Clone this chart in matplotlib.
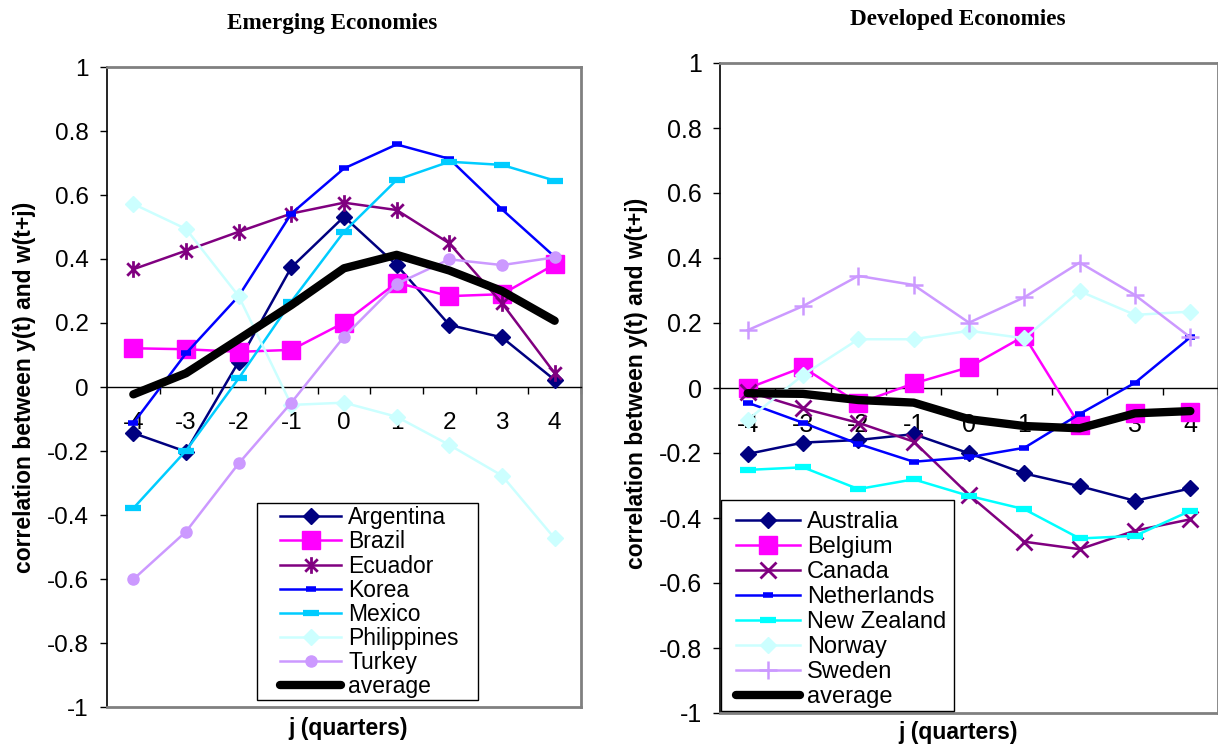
import numpy as np
import matplotlib
matplotlib.use('Agg')
from matplotlib import pyplot as plt
from matplotlib.path import Path
from matplotlib.patches import Rectangle
from matplotlib.ticker import FuncFormatter

plt.rcParams['font.family'] = ['Liberation Sans', 'DejaVu Sans']
plt.rcParams['axes.unicode_minus'] = False

# lead/lag in quarters
j = np.arange(-4, 5)

# emerging economies
argentina = [-0.144, -0.202, 0.079, 0.374, 0.532, 0.381, 0.194, 0.155, 0.022]
brazil = [0.121, 0.118, 0.110, 0.116, 0.201, 0.326, 0.284, 0.290, 0.383]
ecuador = [0.368, 0.426, 0.485, 0.542, 0.576, 0.553, 0.449, 0.262, 0.043]
korea = [-0.113, 0.105, 0.284, 0.542, 0.683, 0.758, 0.713, 0.555, 0.407]
mexico = [-0.379, -0.199, 0.027, 0.267, 0.485, 0.647, 0.704, 0.694, 0.645]
philippines = [0.572, 0.494, 0.284, -0.056, -0.049, -0.093, -0.181, -0.277, -0.473]
turkey = [-0.601, -0.452, -0.239, -0.049, 0.157, 0.322, 0.399, 0.381, 0.405]
avg_emerging = [-0.023, 0.043, 0.149, 0.256, 0.371, 0.413, 0.364, 0.300, 0.207]

# developed economies
australia = [-0.203, -0.168, -0.160, -0.142, -0.201, -0.263, -0.302, -0.347, -0.309]
belgium = [-0.001, 0.064, -0.047, 0.014, 0.064, 0.160, -0.114, -0.078, -0.073]
canada = [-0.011, -0.063, -0.107, -0.165, -0.329, -0.473, -0.496, -0.439, -0.404]
netherlands = [-0.045, -0.107, -0.172, -0.227, -0.213, -0.184, -0.080, 0.016, 0.156]
new_zealand = [-0.252, -0.244, -0.311, -0.281, -0.332, -0.373, -0.463, -0.455, -0.378]
norway = [-0.098, 0.040, 0.150, 0.150, 0.176, 0.153, 0.298, 0.225, 0.235]
sweden = [0.178, 0.252, 0.345, 0.317, 0.201, 0.279, 0.386, 0.286, 0.156]
avg_developed = [-0.016, -0.018, -0.037, -0.045, -0.096, -0.117, -0.124, -0.078, -0.071]

# asterisk: vertical bar plus an x
asterisk = Path([(0, -1), (0, 1), (-0.75, -0.75), (0.75, 0.75), (-0.75, 0.75), (0.75, -0.75)],
                [Path.MOVETO, Path.LINETO, Path.MOVETO, Path.LINETO, Path.MOVETO, Path.LINETO])

NAVY, MAGENTA, PURPLE, BLUE = '#000080', '#FF00FF', '#800080', '#0000FF'
SKY, CYAN, PALE, LILAC = '#00CCFF', '#00FFFF', '#CCFFFF', '#CC99FF'

emerging = [
    ('Argentina', argentina, NAVY, dict(marker='D', ms=8.5)),
    ('Brazil', brazil, MAGENTA, dict(marker='s', ms=12.5)),
    ('Ecuador', ecuador, PURPLE, dict(marker=asterisk, ms=12, mew=2)),
    ('Korea', korea, BLUE, dict(marker='_', ms=7, mew=4)),
    ('Mexico', mexico, SKY, dict(marker='_', ms=12, mew=4.5)),
    ('Philippines', philippines, PALE, dict(marker='D', ms=8.5)),
    ('Turkey', turkey, LILAC, dict(marker='o', ms=8)),
]
developed = [
    ('Australia', australia, NAVY, dict(marker='D', ms=8.5)),
    ('Belgium', belgium, MAGENTA, dict(marker='s', ms=12.5)),
    ('Canada', canada, PURPLE, dict(marker='x', ms=12, mew=2)),
    ('Netherlands', netherlands, BLUE, dict(marker='_', ms=7, mew=4)),
    ('New Zealand', new_zealand, CYAN, dict(marker='_', ms=12, mew=4.5)),
    ('Norway', norway, PALE, dict(marker='D', ms=8.5)),
    ('Sweden', sweden, LILAC, dict(marker='+', ms=13, mew=1.8)),
]


def draw_panel(ax, series, average, box, anchor, legend_size, spacing, tick_size):
    for name, vals, color, mk in series:
        ax.plot(j, vals, color=color, lw=1.8, mfc=color, mec=color, label=name,
                zorder=3, **mk)
    ax.plot(j, average, color='black', lw=6, solid_capstyle='round', label='average', zorder=4)

    ax.set_xlim(-4.5, 4.5)
    ax.set_ylim(-1, 1)

    # category axis runs through zero, frame in gray
    ax.spines['bottom'].set_position(('data', 0))
    ax.spines['bottom'].set_color('black')
    ax.spines['bottom'].set_linewidth(1)
    ax.spines['left'].set_color('black')
    ax.spines['left'].set_linewidth(1.2)
    for side in ['top', 'right']:
        ax.spines[side].set_color('#808080')
        ax.spines[side].set_linewidth(2)
    ax.axhline(-1, color='#808080', lw=2, clip_on=False, zorder=5)

    ax.set_xticks(j)
    ax.set_xticklabels([str(v) for v in j])
    ax.set_xticks(j + 0.5, minor=True)
    ax.tick_params(axis='x', which='major', length=0, pad=18, labelsize=tick_size)
    ax.tick_params(axis='x', which='minor', length=5, width=1, direction='out')
    ax.set_yticks(np.linspace(-1, 1, 11))
    ax.yaxis.set_major_formatter(FuncFormatter(lambda v, p: f'{v:g}'))
    ax.tick_params(axis='y', length=5, width=1, direction='out', pad=8, labelsize=tick_size)

    # legend box drawn as its own patch so the padding can be wider than tall
    ax.add_patch(Rectangle(box[:2], box[2], box[3], transform=ax.transAxes,
                           facecolor='white', edgecolor='black', lw=1, zorder=5.5,
                           clip_on=False))
    leg = ax.legend(loc='lower left', bbox_to_anchor=anchor, borderaxespad=0,
                    fontsize=legend_size, numpoints=1, handlelength=2.7, handletextpad=0.3,
                    labelspacing=spacing, borderpad=0.25, frameon=False)
    leg.set_zorder(6)


fig = plt.figure(figsize=(12.18, 7.49), dpi=100)
ax1 = fig.add_axes([107 / 1218, 1 - 707 / 749, 474 / 1218, 640 / 749])
ax2 = fig.add_axes([720 / 1218, 1 - 713 / 749, 498 / 1218, 650 / 749])

draw_panel(ax1, emerging, avg_emerging, (0.3165, 0.0109, 0.466, 0.308),
           (0.352, 0.0047), 16.5, 0.05, 17.5)
draw_panel(ax2, developed, avg_developed, (0.002, 0.003, 0.468, 0.325),
           (0.02, -0.002), 17, 0.13, 18)

serif = ['Liberation Serif', 'DejaVu Serif']
fig.text(332 / 1218, 1 - 23 / 749, 'Emerging Economies', family=serif, weight='bold',
         fontsize=16.7, ha='center', va='center')
fig.text(958 / 1218, 1 - 19 / 749, 'Developed Economies', family=serif, weight='bold',
         fontsize=16.7, ha='center', va='center')

ylab = 'correlation between y(t) and w(t+j)'
fig.text(25 / 1218, 1 - 387 / 749, ylab, rotation=90, weight='bold', fontsize=16.5,
         ha='center', va='center')
fig.text(637 / 1218, 1 - 383 / 749, ylab, rotation=90, weight='bold', fontsize=16.5,
         ha='center', va='center')
fig.text(348 / 1218, 1 - 729 / 749, 'j (quarters)', weight='bold', fontsize=16.5,
         ha='center', va='center')
fig.text(958 / 1218, 1 - 733 / 749, 'j (quarters)', weight='bold', fontsize=16.5,
         ha='center', va='center')

fig.savefig('out.png', dpi=100)
